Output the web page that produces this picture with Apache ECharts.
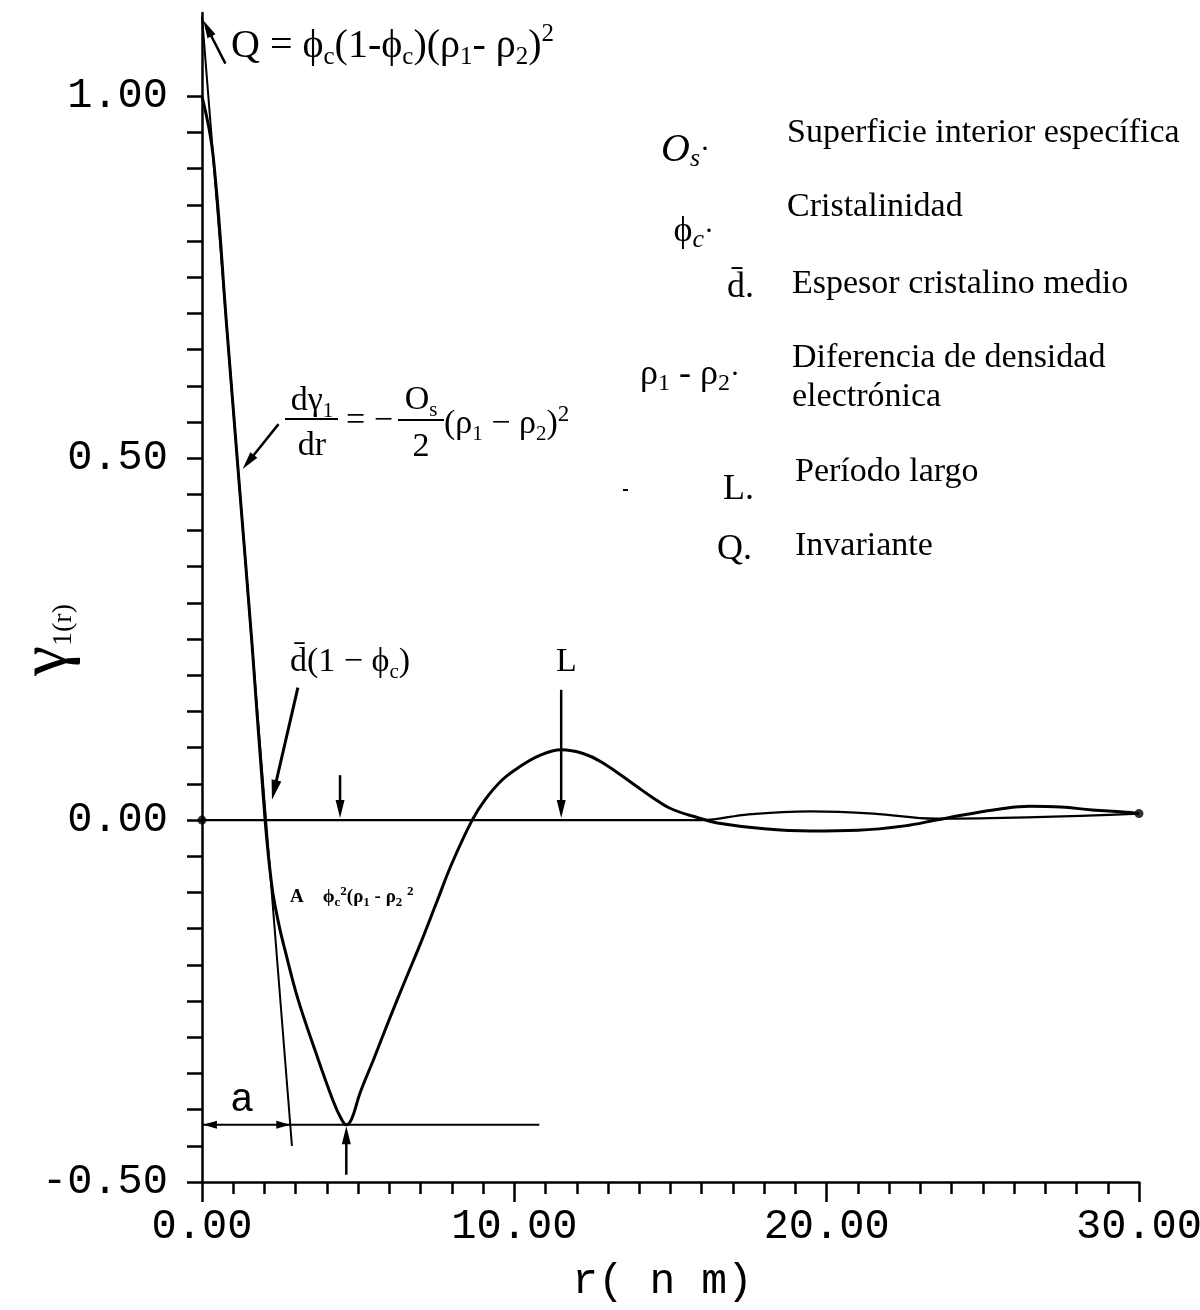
<!DOCTYPE html>
<html><head><meta charset="utf-8">
<script src="https://cdn.jsdelivr.net/npm/echarts@6/dist/echarts.min.js"></script>
<style>html,body{margin:0;padding:0;background:#fff}#c{width:1200px;height:1310px}</style>
</head><body><div id="c"></div>
<script>
// ---- data ----
const curveR = [0,0.35,0.8,1.2,1.6,2.02,2.24,2.45,2.66,3.07,3.62,4.19,4.45,4.62,4.8,5.06,5.5,6.0,6.5,7.0,7.5,8.0,8.65,9.06,9.6,10.15,10.8,11.5,12.2,12.8,13.9,14.4,15.0,15.9,16.5,18,19.5,21,22.5,23.5,24.5,25.5,26.5,27.5,28.5,29.5,30];
const curveG = [1.00,0.92,0.677,0.46,0.244,0.0,-0.092,-0.142,-0.180,-0.247,-0.318,-0.387,-0.412,-0.421,-0.412,-0.377,-0.33,-0.275,-0.222,-0.170,-0.115,-0.060,0.0,0.028,0.055,0.073,0.089,0.097,0.092,0.080,0.047,0.032,0.016,0.003,-0.004,-0.012,-0.015,-0.014,-0.008,0.0,0.008,0.015,0.019,0.018,0.014,0.011,0.009];
const baseR = [0,16,17.5,19.5,21.5,23.5,30];
const baseG = [0,0,0.008,0.012,0.009,0.002,0.009];
const tangentR = [0,2.88];
const tangentG = [1.11,-0.45];
const minLineEndR = 10.8;
const xTickLabels = [0,10,20,30];
const yTickLabels = [-0.5,0,0.5,1.0];
const yMinorStep = 0.05;

const MONO = '"Liberation Mono", "DejaVu Sans Mono", monospace';
const SERIF = '"Liberation Serif", "DejaVu Serif", serif';

const zip = (a,b)=>a.map((v,i)=>[v,b[i]]);
const minIdx = curveG.indexOf(Math.min(...curveG));
const minR = curveR[minIdx], minG = curveG[minIdx];
let peakIdx = curveR.findIndex(r=>r>8);
curveR.forEach((r,i)=>{ if(r>8 && r<16 && curveG[i]>curveG[peakIdx]) peakIdx=i; });
const peakR = curveR[peakIdx];
const tanSlope = (tangentG[1]-tangentG[0])/(tangentR[1]-tangentR[0]);
const tanAtMinR = tangentR[0] + (minG - tangentG[0])/tanSlope;

const yTicks = [];
for (let v = yTickLabels[0]; v <= yTickLabels[yTickLabels.length-1] + 1e-9; v += yMinorStep) yTicks.push(Math.round(v*100)/100);

const chart = echarts.init(document.getElementById('c'));
const lineStyleBlack = w => ({color:'#000', width:w});
chart.setOption({
  animation:false,
  backgroundColor:'#fff',
  grid:{left:202, right:61, top:13, bottom:128, containLabel:false, outerBoundsMode:'none'},
  xAxis:{
    type:'value', min:0, max:30, interval:10,
    axisLine:{onZero:false, lineStyle:{color:'#000', width:2.5}},
    axisTick:{length:20, lineStyle:{color:'#000', width:2.5}},
    minorTick:{show:true, splitNumber:10, length:12, lineStyle:{color:'#000', width:2.5}},
    splitLine:{show:false},
    axisLabel:{margin:24, color:'#000', fontFamily:MONO, fontSize:42, formatter:v=>xTickLabels.includes(v)?v.toFixed(2):''},
    name:'r( n m)', nameLocation:'middle', nameGap:78,
    nameTextStyle:{color:'#000', fontFamily:MONO, fontSize:43, padding:[0,16,0,0]}
  },
  yAxis:{
    type:'value', min:-0.5, max:1.115, interval:0.5,
    axisLine:{onZero:false, lineStyle:{color:'#000', width:2.5}},
    axisTick:{length:15, customValues:yTicks, lineStyle:{color:'#000', width:2.5}},
    splitLine:{show:false},
    axisLabel:{margin:34, color:'#000', fontFamily:MONO, fontSize:42, customValues:yTickLabels, formatter:v=>v.toFixed(2)}
  },
  series:[
    {type:'line', data:zip(baseR,baseG), smooth:0.4, showSymbol:false, lineStyle:lineStyleBlack(2.2), z:2},
    {type:'line', data:zip(tangentR,tangentG), showSymbol:false, lineStyle:lineStyleBlack(2), z:2},
    {type:'line', data:[[0,minG],[minLineEndR,minG]], showSymbol:false, lineStyle:lineStyleBlack(2), z:2},
    {type:'line', data:zip(curveR,curveG), smooth:0.4, showSymbol:false, lineStyle:lineStyleBlack(3), z:3},
    {type:'scatter', data:[[baseR[0],baseG[0]],[baseR[baseR.length-1],baseG[baseG.length-1]]], symbolSize:9, itemStyle:{color:'#000'}, z:4}
  ]
});

const P = (r,g)=>chart.convertToPixel({gridIndex:0},[r,g]);
function arrow(p1,p2,head,w,lw){
  head=head||18; w=w||4.5; lw=lw||2.5;
  const dx=p2[0]-p1[0], dy=p2[1]-p1[1], L=Math.hypot(dx,dy), ux=dx/L, uy=dy/L;
  const bx=p2[0]-ux*head, by=p2[1]-uy*head;
  return [
    {type:'line', shape:{x1:p1[0],y1:p1[1],x2:bx+ux*2,y2:by+uy*2}, style:{stroke:'#000', lineWidth:lw}},
    {type:'polygon', shape:{points:[[p2[0],p2[1]],[bx-uy*w,by+ux*w],[bx+uy*w,by-ux*w]]}, style:{fill:'#000'}}
  ];
}
function txt(x,y,text,rich,extra){
  return {type:'text', x:x, y:y, style:Object.assign({text:text, fill:'#000', align:'left', verticalAlign:'middle', rich:rich||{}}, extra||{})};
}
const R = {
  n:{fontSize:40, fontFamily:SERIF, lineHeight:48, color:'#000'},
  sb:{fontSize:25, fontFamily:SERIF, lineHeight:29, verticalAlign:'bottom', color:'#000'},
  sp:{fontSize:25, fontFamily:SERIF, lineHeight:25, verticalAlign:'top', color:'#000'},
  m:{fontSize:34, fontFamily:SERIF, lineHeight:42, color:'#000'},
  msb:{fontSize:21, fontFamily:SERIF, lineHeight:25, verticalAlign:'bottom', color:'#000'},
  msp:{fontSize:23, fontFamily:SERIF, lineHeight:23, verticalAlign:'top', color:'#000'},
  L:{fontSize:30, fontFamily:SERIF, color:'#000'},
  big:{fontSize:36, fontFamily:SERIF, lineHeight:42, color:'#000'},
  bsb:{fontSize:24, fontFamily:SERIF, lineHeight:28, verticalAlign:'bottom', color:'#000'},
  bigI:{fontSize:40, fontFamily:SERIF, fontStyle:'italic', lineHeight:44, color:'#000'},
  sI:{fontSize:26, fontFamily:SERIF, fontStyle:'italic', lineHeight:30, verticalAlign:'bottom', color:'#000'},
  t:{fontSize:19, fontFamily:SERIF, fontWeight:'bold', lineHeight:24, color:'#000'},
  ts:{fontSize:13, fontFamily:SERIF, fontWeight:'bold', lineHeight:14, verticalAlign:'bottom', color:'#000'},
  tp:{fontSize:13, fontFamily:SERIF, fontWeight:'bold', lineHeight:13, verticalAlign:'top', color:'#000'},
  yg:{fontSize:68, fontFamily:SERIF, lineHeight:60, color:'#000'},
  ys:{fontSize:28, fontFamily:SERIF, lineHeight:44, verticalAlign:'bottom', color:'#000'}
};

const g = [];
// y-axis title
g.push({type:'text', x:48, y:640, rotation:Math.PI/2, style:{text:'{yg|γ}{ys|1(r)}', rich:R, fill:'#000', align:'center', verticalAlign:'middle'}});
// arrows
g.push(...arrow(P(0.75,1.045), P(0.04,1.105)));
g.push(...arrow(P(2.45,0.547), P(1.3,0.485)));
g.push(...arrow(P(3.07,0.183), P(2.24,0.028), 20, 5, 3));
g.push(...arrow(P(peakR,0.18), P(peakR,0.003)));
g.push(...arrow(P(4.42,0.062), P(4.42,0.003)));
g.push(...arrow(P(minR,-0.49), P(minR,minG-0.002)));
(function(){ const a=P(0.03,minG), b=P(tanAtMinR,minG);
  g.push({type:'polygon', shape:{points:[[a[0],a[1]],[a[0]+14,a[1]-4],[a[0]+14,a[1]+4]]}, style:{fill:'#000'}});
  g.push({type:'polygon', shape:{points:[[b[0],b[1]],[b[0]-14,b[1]-4],[b[0]-14,b[1]+4]]}, style:{fill:'#000'}});
})();

g.push(txt(231,46,'{n|Q = ϕ}{sb|c}{n|(1-ϕ}{sb|c}{n|)(ρ}{sb|1}{n|- ρ}{sb|2}{n|)}{sp|2}',R));
g.push(txt(312,401,'{m|dγ}{msb|1}',R,{align:'center'}));
g.push({type:'line', shape:{x1:285,y1:419,x2:338,y2:419}, style:{stroke:'#000', lineWidth:2}});
g.push(txt(312,446,'{m|dr}',R,{align:'center'}));
g.push(txt(346,421,'{m|= −}',R));
g.push(txt(421,400,'{m|O}{msb|s}',R,{align:'center'}));
g.push({type:'line', shape:{x1:398,y1:420,x2:444,y2:420}, style:{stroke:'#000', lineWidth:2}});
g.push(txt(421,447,'{m|2}',R,{align:'center'}));
g.push(txt(444,424,'{m|(ρ}{msb|1}{m| − ρ}{msb|2}{m|)}{msp|2}',R));
g.push(txt(290,662,'{m|d̄(1 − ϕ}{msb|c}{m|)}',R));
g.push(txt(556,662,'{m|L}',R));
g.push(txt(290,897,'{t|A    ϕ}{ts|c}{tp|2}{t|(ρ}{ts|1}{t| - ρ}{ts|2}{t| }{tp|2}',R));
g.push(txt(230,1100,'a',{}, {fontSize:40, fontFamily:MONO}));

const LF = {fontSize:34, fontFamily:SERIF};
g.push(txt(710,150,'{bigI|O}{sI|s}{L|·}',R,{align:'right'}));
g.push(txt(787,133,'Superficie interior específica',{}, LF));
g.push(txt(714,232,'{big|ϕ}{sI|c}{L|·}',R,{align:'right'}));
g.push(txt(787,207,'Cristalinidad',{}, LF));
g.push(txt(754,288,'{big|d̄.}',R,{align:'right'}));
g.push(txt(792,284,'Espesor cristalino medio',{}, LF));
g.push(txt(740,375,'{big|ρ}{bsb|1}{big| - ρ}{bsb|2}{L|·}',R,{align:'right'}));
g.push(txt(792,358,'Diferencia de densidad',{}, LF));
g.push(txt(792,397,'electrónica',{}, LF));
g.push(txt(754,490,'{big|L.}',R,{align:'right'}));
g.push(txt(795,472,'Período largo',{}, LF));
g.push(txt(752,550,'{big|Q.}',R,{align:'right'}));
g.push(txt(795,546,'Invariante',{}, LF));
g.push({type:'rect', shape:{x:623, y:489, width:5, height:2}, style:{fill:'#000'}});

chart.setOption({graphic:g});
</script></body></html>
